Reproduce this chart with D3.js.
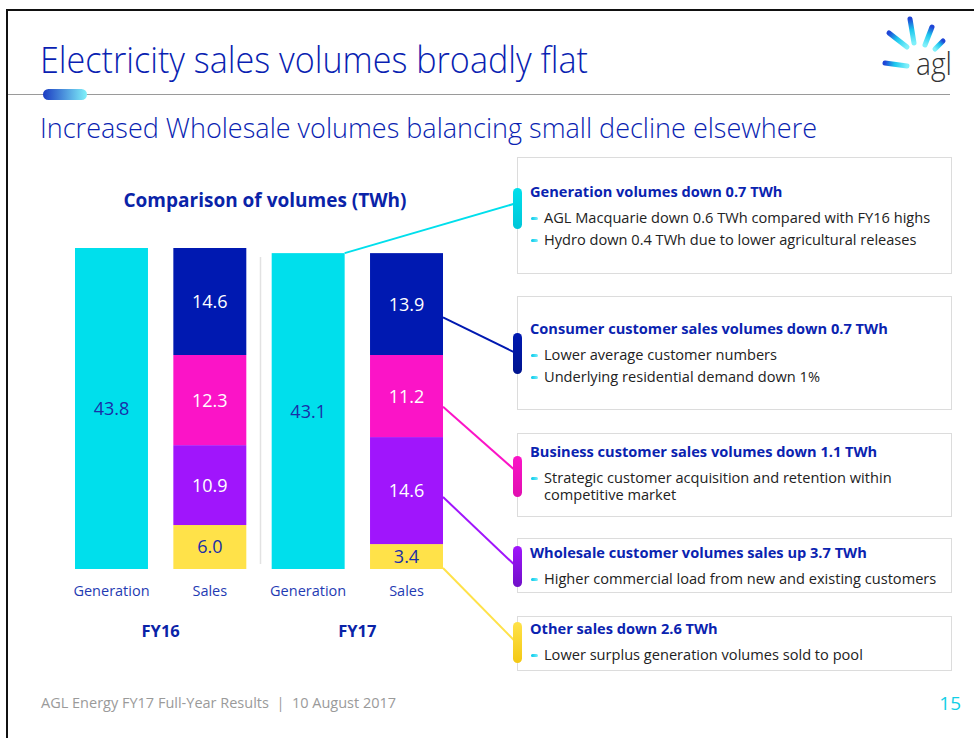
<!DOCTYPE html>
<html>
<head>
<meta charset="utf-8">
<script src="https://cdn.jsdelivr.net/npm/d3@7/dist/d3.min.js"></script>
<style>
  body { margin: 0; background: #fff; }
  text { font-family: "Open Sans", sans-serif; }
</style>
</head>
<body>
<script>
// chart values
const years = ["FY16", "FY17"];
const columns = ["Generation", "Sales"];
const generation = [43.8, 43.1];
const segments = ["Consumer", "Business", "Wholesale", "Other"];
const consumer = [14.6, 13.9];
const business = [12.3, 11.2];
const wholesale = [10.9, 14.6];
const other = [6.0, 3.4];

// commentary boxes
const boxHeadings = [
    "Generation volumes down 0.7 TWh",
    "Consumer customer sales volumes down 0.7 TWh",
    "Business customer sales volumes down 1.1 TWh",
    "Wholesale customer volumes sales up 3.7 TWh",
    "Other sales down 2.6 TWh"
];
const boxBullets = [
    [["AGL Macquarie down 0.6 TWh compared with FY16 highs"], ["Hydro down 0.4 TWh due to lower agricultural releases"]],
    [["Lower average customer numbers"], ["Underlying residential demand down 1%"]],
    [["Strategic customer acquisition and retention within", "competitive market"]],
    [["Higher commercial load from new and existing customers"]],
    [["Lower surplus generation volumes sold to pool"]]
];
const boxSeries = ["Generation", "Consumer", "Business", "Wholesale", "Other"];

function main(){
    const width = 974;
    const height = 738;

    const colors = {
        Generation: "#00dfec",
        Consumer: "#0019b1",
        Business: "#fb14c7",
        Wholesale: "#a015fc",
        Other: "#ffe249"
    };
    const accentEnd = {
        Generation: "#00c6d8",
        Consumer: "#00148e",
        Business: "#e00fb0",
        Wholesale: "#7010c8",
        Other: "#f3c814"
    };
    const labelColor = {
        Generation: "#1a2ea8",
        Consumer: "#fff",
        Business: "#fff",
        Wholesale: "#fff",
        Other: "#1a2ea8"
    };

    const svg = d3.select("body").append("svg")
        .attr("width", width)
        .attr("height", height);

    const defs = svg.append("defs");

    // page frame
    svg.append("rect").attr("x", 7).attr("y", 10).attr("width", width).attr("height", height)
        .attr("fill", "none").attr("stroke", "#111").attr("stroke-width", 2);

    // header
    svg.append("text")
        .attr("x", 40).attr("y", 73)
        .attr("font-family", "Roboto").attr("font-weight", 300)
        .attr("font-size", "36px")
        .attr("textLength", 548).attr("lengthAdjust", "spacingAndGlyphs")
        .attr("fill", "#0a1fb2")
        .text("Electricity sales volumes broadly flat");

    svg.append("line").attr("x1", 8).attr("x2", 950).attr("y1", 94.5).attr("y2", 94.5)
        .attr("stroke", "#9a9a9a").attr("stroke-width", 1);

    const pill = defs.append("linearGradient").attr("id", "pill");
    pill.append("stop").attr("offset", "0%").attr("stop-color", "#1c3cc2");
    pill.append("stop").attr("offset", "100%").attr("stop-color", "#80f2fa");
    svg.append("rect").attr("x", 43).attr("y", 89).attr("width", 44).attr("height", 11).attr("rx", 5.5)
        .attr("fill", "url(#pill)");

    // logo
    const rays = [
        [889, 33, 907, 47], [910, 19, 914, 43], [932, 27, 925, 45],
        [943, 41, 935, 49], [885, 63, 907, 66]
    ];
    rays.forEach((r, i) => {
        const g = defs.append("linearGradient").attr("id", "ray" + i)
            .attr("gradientUnits", "userSpaceOnUse")
            .attr("x1", r[0]).attr("y1", r[1]).attr("x2", r[2]).attr("y2", r[3]);
        g.append("stop").attr("offset", "0%").attr("stop-color", "#1f45d6");
        g.append("stop").attr("offset", "45%").attr("stop-color", "#1cc8ee");
        g.append("stop").attr("offset", "100%").attr("stop-color", "#7ff0fa");
        svg.append("line")
            .attr("x1", r[0]).attr("y1", r[1]).attr("x2", r[2]).attr("y2", r[3])
            .attr("stroke", "url(#ray" + i + ")").attr("stroke-width", 5)
            .attr("stroke-linecap", "round");
    });
    svg.append("text")
        .attr("x", 916).attr("y", 75)
        .attr("font-family", "Roboto").attr("font-weight", 300)
        .attr("font-size", "31px")
        .attr("textLength", 36).attr("lengthAdjust", "spacingAndGlyphs")
        .attr("fill", "#333")
        .text("agl");

    svg.append("text")
        .attr("x", 40).attr("y", 138)
        .attr("font-family", "Roboto").attr("font-weight", 300)
        .attr("font-size", "28px")
        .attr("textLength", 777).attr("lengthAdjust", "spacingAndGlyphs")
        .attr("fill", "#0a1fb2")
        .text("Increased Wholesale volumes balancing small decline elsewhere");

    // chart
    svg.append("text")
        .attr("x", 265).attr("y", 207)
        .attr("text-anchor", "middle")
        .attr("font-size", "19px").attr("font-weight", 700)
        .attr("fill", "#0a23a8")
        .text("Comparison of volumes (TWh)");

    const keys = [];
    years.forEach(y => columns.forEach(c => keys.push(y + "|" + c)));

    const x = d3.scaleBand().domain(keys).range([75, 443]).paddingInner(0.258).paddingOuter(0);
    const yScale = d3.scaleLinear().domain([0, d3.max(generation)]).range([569, 248]);

    const rows = years.map((yr, i) => ({
        year: yr,
        Consumer: consumer[i], Business: business[i], Wholesale: wholesale[i], Other: other[i]
    }));
    const stack = d3.stack().keys(segments.slice().reverse());
    const stacked = stack(rows);

    const bars = [];
    years.forEach((yr, i) => {
        bars.push({ key: yr + "|Generation", series: "Generation", y0: 0, y1: generation[i], value: generation[i] });
    });
    stacked.forEach(layer => {
        layer.forEach(d => {
            bars.push({ key: d.data.year + "|Sales", series: layer.key, y0: d[0], y1: d[1], value: d.data[layer.key] });
        });
    });

    const chart = svg.append("g").attr("id", "bars");

    // divider between years
    chart.append("line")
        .attr("x1", 260.5).attr("x2", 260.5)
        .attr("y1", yScale(d3.max(generation)) + 9).attr("y2", yScale(0) - 5)
        .attr("stroke", "#e2e2e2").attr("stroke-width", 1.5);

    chart.selectAll("rect.seg")
        .data(bars)
        .enter()
        .append("rect")
        .attr("class", "seg")
        .attr("x", d => x(d.key))
        .attr("width", x.bandwidth())
        .attr("y", d => yScale(d.y1))
        .attr("height", d => yScale(d.y0) - yScale(d.y1))
        .attr("fill", d => colors[d.series]);

    chart.selectAll("text.val")
        .data(bars)
        .enter()
        .append("text")
        .attr("class", "val")
        .attr("x", d => x(d.key) + x.bandwidth() / 2)
        .attr("y", d => (yScale(d.y0) + yScale(d.y1)) / 2)
        .attr("dy", "0.36em")
        .attr("text-anchor", "middle")
        .attr("font-size", "18px")
        .attr("fill", d => labelColor[d.series])
        .text(d => d.value.toFixed(1));

    chart.selectAll("text.cat")
        .data(keys)
        .enter()
        .append("text")
        .attr("class", "cat")
        .attr("x", d => x(d) + x.bandwidth() / 2)
        .attr("y", 596)
        .attr("text-anchor", "middle")
        .attr("font-size", "14.5px")
        .attr("fill", "#1f3bb3")
        .text(d => d.split("|")[1]);

    chart.selectAll("text.yr")
        .data(years)
        .enter()
        .append("text")
        .attr("class", "yr")
        .attr("x", d => (x(d + "|Generation") + x(d + "|Sales") + x.bandwidth()) / 2)
        .attr("y", 637)
        .attr("text-anchor", "middle")
        .attr("font-size", "16.5px").attr("font-weight", 700)
        .attr("fill", "#0a23a8")
        .text(d => d);

    // commentary boxes
    const boxTop = [157, 296, 433, 538, 616];
    const boxBottom = [273, 409, 516, 592, 670];
    const headY = [197, 334, 457, 558, 634];
    const accentTop = [188, 333, 456, 546, 622];
    const boxLeft = 517, boxRight = 951;

    const panel = svg.append("g").attr("id", "boxes");

    boxSeries.forEach((s, i) => {
        const g = defs.append("linearGradient").attr("id", "acc" + i)
            .attr("x1", 0).attr("y1", 0).attr("x2", 0).attr("y2", 1);
        g.append("stop").attr("offset", "0%").attr("stop-color", colors[s]);
        g.append("stop").attr("offset", "100%").attr("stop-color", accentEnd[s]);
    });
    const dash = defs.append("linearGradient").attr("id", "dash");
    dash.append("stop").attr("offset", "0%").attr("stop-color", "#00c8ea");
    dash.append("stop").attr("offset", "100%").attr("stop-color", "#7aeefa");

    // connectors from bars to boxes
    const fy17 = years[1];
    const anchor = {
        Generation: { key: fy17 + "|Generation", t: 1, to: 0.38 },
        Consumer: { key: fy17 + "|Sales", t: 0.37, to: 0.48 },
        Business: { key: fy17 + "|Sales", t: 0.37, to: 0.35 },
        Wholesale: { key: fy17 + "|Sales", t: 0.44, to: 0.47 },
        Other: { key: fy17 + "|Sales", t: 0.04, to: 0.47 }
    };
    boxSeries.forEach((s, i) => {
        const b = bars.find(d => d.key === anchor[s].key && d.series === s);
        const sx = x(b.key) + x.bandwidth();
        const sy = yScale(b.y0 + (b.y1 - b.y0) * anchor[s].t);
        const ey = accentTop[i] + 41 * anchor[s].to;
        panel.append("line")
            .attr("x1", sx).attr("y1", sy).attr("x2", boxLeft - 2).attr("y2", ey)
            .attr("stroke", colors[s]).attr("stroke-width", 2);
    });

    boxSeries.forEach((s, i) => {
        panel.append("rect")
            .attr("x", boxLeft + 0.5).attr("y", boxTop[i] + 0.5)
            .attr("width", boxRight - boxLeft).attr("height", boxBottom[i] - boxTop[i])
            .attr("fill", "#fff").attr("stroke", "#dcdcdc").attr("stroke-width", 1);

        panel.append("rect")
            .attr("x", 513).attr("y", accentTop[i])
            .attr("width", 9).attr("height", 41).attr("rx", 4.5)
            .attr("fill", "url(#acc" + i + ")");

        panel.append("text")
            .attr("x", 530).attr("y", headY[i])
            .attr("font-size", "14.6px").attr("font-weight", 700)
            .attr("fill", "#0a23b0")
            .text(boxHeadings[i]);

        let ly = headY[i] + 26;
        boxBullets[i].forEach(bullet => {
            panel.append("rect")
                .attr("x", 531).attr("y", ly - 6).attr("width", 7).attr("height", 3).attr("rx", 1.5)
                .attr("fill", "url(#dash)");
            // wrapped bullets go in one text element as tspans
            const t = panel.append("text")
                .attr("y", ly)
                .attr("font-size", "14.6px")
                .attr("fill", "#222");
            bullet.forEach((line, j) => {
                t.append("tspan")
                    .attr("x", 544)
                    .attr("dy", j === 0 ? 0 : 17)
                    .text(line);
            });
            ly += 17 * (bullet.length - 1) + 22;
        });
    });

    // footer
    svg.append("text")
        .attr("x", 41).attr("y", 708)
        .attr("font-size", "14.5px")
        .attr("fill", "#9a9a9a")
        .attr("xml:space", "preserve")
        .text("AGL Energy FY17 Full-Year Results  |  10 August 2017");

    svg.append("text")
        .attr("x", 961).attr("y", 710)
        .attr("text-anchor", "end")
        .attr("font-size", "19px")
        .attr("fill", "#12cfe6")
        .text("15");
}

main();
</script>
</body>
</html>
